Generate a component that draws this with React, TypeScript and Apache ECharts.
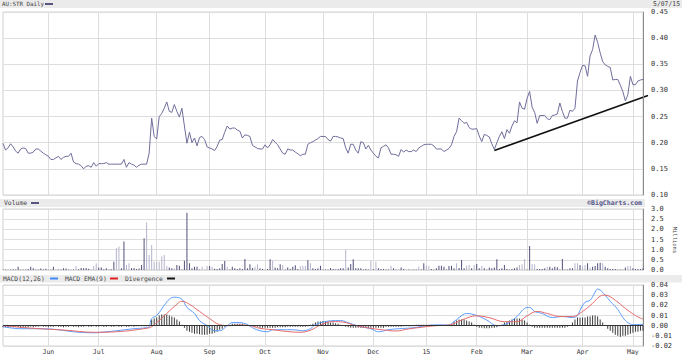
import React, { useEffect, useRef } from "react";
import * as echarts from "echarts";

const firstDay = "2014-05-07";
const lastDay = "2015-05-07";
const holidays = ["2014-06-09", "2014-12-25", "2014-12-26", "2015-01-01", "2015-01-26", "2015-04-03", "2015-04-06"];
const monthNames = ["Jan", "Feb", "Mar", "Apr", "May", "Jun", "Jul", "Aug", "Sep", "Oct", "Nov", "Dec"];

// Daily closes (AUD)
const closes = [
  0.199, 0.186, 0.190, 0.198, 0.192, 0.184, 0.180, 0.188, 0.190, 0.189,
  0.180, 0.180, 0.182, 0.188, 0.188, 0.184, 0.180, 0.177, 0.174, 0.168,
  0.168, 0.171, 0.174, 0.168, 0.172, 0.174, 0.174, 0.180, 0.163, 0.160,
  0.159, 0.156, 0.150, 0.155, 0.156, 0.153, 0.162, 0.155, 0.160, 0.160,
  0.160, 0.162, 0.159, 0.159, 0.159, 0.159, 0.159, 0.159, 0.168, 0.153,
  0.162, 0.159, 0.157, 0.153, 0.157, 0.159, 0.159, 0.159, 0.180, 0.247,
  0.212, 0.207, 0.250, 0.256, 0.266, 0.278, 0.260, 0.258, 0.273, 0.260,
  0.249, 0.266, 0.232, 0.199, 0.220, 0.200, 0.209, 0.194, 0.210, 0.212,
  0.206, 0.192, 0.190, 0.188, 0.185, 0.193, 0.205, 0.206, 0.220, 0.232,
  0.226, 0.228, 0.228, 0.224, 0.222, 0.209, 0.215, 0.214, 0.212, 0.195,
  0.192, 0.189, 0.188, 0.188, 0.196, 0.190, 0.196, 0.206, 0.201, 0.196,
  0.188, 0.180, 0.178, 0.188, 0.186, 0.186, 0.182, 0.179, 0.175, 0.178,
  0.178, 0.197, 0.200, 0.202, 0.205, 0.208, 0.212, 0.212, 0.212, 0.206,
  0.203, 0.212, 0.212, 0.211, 0.209, 0.208, 0.190, 0.180, 0.197, 0.197,
  0.186, 0.180, 0.202, 0.200, 0.188, 0.195, 0.186, 0.180, 0.174, 0.171,
  0.190, 0.193, 0.196, 0.190, 0.178, 0.178, 0.177, 0.174, 0.187, 0.182,
  0.186, 0.183, 0.183, 0.186, 0.183, 0.190, 0.193, 0.196, 0.197, 0.197,
  0.197, 0.194, 0.188, 0.188, 0.188, 0.183, 0.186, 0.189, 0.196, 0.212,
  0.221, 0.247, 0.242, 0.237, 0.239, 0.229, 0.226, 0.226, 0.227, 0.213,
  0.202, 0.216, 0.214, 0.211, 0.198, 0.187, 0.200, 0.212, 0.221, 0.208,
  0.225, 0.218, 0.232, 0.242, 0.238, 0.278, 0.266, 0.264, 0.285, 0.298,
  0.268, 0.258, 0.237, 0.252, 0.252, 0.252, 0.246, 0.244, 0.252, 0.253,
  0.255, 0.276, 0.260, 0.247, 0.247, 0.262, 0.260, 0.266, 0.318, 0.334,
  0.348, 0.347, 0.327, 0.366, 0.378, 0.406, 0.392, 0.372, 0.355, 0.349,
  0.346, 0.344, 0.320, 0.321, 0.321, 0.310, 0.298, 0.280, 0.292, 0.327,
  0.311, 0.311, 0.318, 0.320, 0.321,
];

// Daily volume (millions)
const volumes = [
  0.02, 0.03, 0.01, 0.02, 0.04, 0.03, 0.16, 0.02, 0.03, 0.02,
  0.05, 0.16, 0.08, 0.03, 0.03, 0.07, 0.02, 0.06, 0.01, 0.03,
  0.16, 0.01, 0.02, 0.03, 0.08, 0.07, 0.03, 0.01, 0.02, 0.20,
  0.04, 0.10, 0.08, 0.10, 0.06, 0.01, 0.20, 0.33, 0.12, 0.12,
  0.04, 0.08, 0.02, 0.04, 0.41, 1.07, 1.15, 0.08, 1.40, 0.25,
  0.33, 0.08, 0.10, 0.05, 0.07, 0.25, 1.56, 2.33, 0.74, 1.23,
  0.41, 0.41, 0.41, 0.66, 0.74, 0.20, 0.12, 0.08, 0.08, 0.25,
  0.21, 0.03, 0.46, 2.82, 0.33, 0.08, 0.16, 0.16, 0.03, 0.16,
  0.01, 0.20, 0.20, 0.16, 0.06, 0.05, 0.08, 0.30, 0.44, 0.16,
  0.03, 0.16, 0.08, 0.05, 0.08, 0.05, 0.54, 0.08, 0.28, 0.10,
  0.16, 0.28, 0.08, 0.05, 0.01, 0.05, 0.53, 0.46, 0.12, 0.08,
  0.28, 0.25, 0.03, 0.12, 0.05, 0.16, 0.23, 0.05, 0.20, 0.21,
  0.20, 0.48, 0.33, 0.08, 0.05, 0.08, 0.21, 0.03, 0.02, 0.02,
  0.10, 0.05, 0.03, 0.05, 0.08, 0.08, 0.99, 0.12, 0.30, 0.53,
  0.08, 0.08, 0.08, 0.03, 0.05, 0.03, 0.46, 0.04, 0.41, 0.08,
  0.05, 0.05, 0.03, 0.02, 0.21, 0.08, 0.02, 0.01, 0.12, 0.05,
  0.01, 0.02, 0.01, 0.03, 0.02, 0.16, 0.02, 0.33, 0.21, 0.20,
  0.05, 0.03, 0.08, 0.21, 0.21, 0.16, 0.03, 0.20, 0.21, 0.08,
  0.33, 0.10, 0.49, 0.08, 0.21, 0.25, 0.08, 0.25, 0.30, 0.08,
  0.20, 0.08, 0.03, 0.12, 0.08, 0.12, 0.53, 0.05, 0.08, 0.25,
  0.05, 0.03, 0.05, 0.08, 0.12, 0.25, 0.28, 0.53, 0.03, 1.18,
  0.30, 0.28, 0.05, 0.05, 0.05, 0.08, 0.16, 0.16, 0.08, 0.16,
  0.13, 0.03, 0.54, 0.03, 0.02, 0.08, 0.08, 0.33, 0.33, 0.25,
  0.20, 0.25, 0.33, 0.12, 0.16, 0.20, 0.33, 0.36, 0.33, 0.16,
  0.08, 0.05, 0.05, 0.05, 0.03, 0.02, 0.01, 0.12, 0.20, 0.20,
  0.08, 0.05, 0.05, 0.05, 0.08,
];

// Days whose volume bar is drawn in the light shade
const lightVolumeDays = [29, 36, 37, 45, 46, 49, 50, 57, 58, 59, 60, 61, 62, 63, 64, 65, 68, 79, 81, 83, 89, 100, 101, 107, 111, 118, 119, 120, 122, 136, 146, 148, 154, 165, 168, 169, 180, 184, 185, 187, 190, 205, 206, 207, 210, 211, 216, 227, 228, 230, 231, 233, 238, 248, 249];

// MACD(12,26) line read at day index
const macdLine = [
  [0, -0.001], [7, -0.003], [12, -0.003], [20, -0.0035], [28, -0.006], [36, -0.007], [41, -0.006], [45, -0.005],
  [52, -0.003], [57, -0.002], [58, -0.001], [59, 0.007], [61, 0.010], [64, 0.020], [66, 0.026], [68, 0.028],
  [71, 0.026], [73, 0.018], [76, 0.012], [78, 0.005], [81, 0.0], [84, -0.005], [86, -0.005], [89, 0.0],
  [91, 0.003], [94, 0.003], [97, 0.001], [99, -0.002], [102, -0.005], [105, -0.006], [107, -0.004], [111, -0.004],
  [115, -0.004], [119, -0.005], [122, -0.003], [124, 0.001], [128, 0.004], [132, 0.005], [134, 0.005], [138, 0.002],
  [142, -0.001], [146, -0.003], [149, -0.006], [153, -0.004], [157, -0.003], [163, -0.002], [168, 0.0], [172, 0.0007],
  [177, 0.0007], [179, 0.004], [181, 0.008], [184, 0.012], [188, 0.010], [192, 0.0055], [196, 0.0], [200, 0.002],
  [204, 0.009], [207, 0.017], [209, 0.018], [211, 0.014], [214, 0.012], [218, 0.008], [222, 0.009], [226, 0.008],
  [228, 0.010], [229, 0.015], [231, 0.023], [233, 0.025], [235, 0.033], [236, 0.036], [237, 0.035], [239, 0.030],
  [241, 0.024], [244, 0.016], [246, 0.008], [248, 0.003], [250, 0.001], [254, 0.0013],
];

// MACD EMA(9) signal line read at day index
const signalLine = [
  [0, 0.0], [12, -0.0026], [25, -0.0045], [36, -0.0065], [45, -0.006], [57, -0.0026], [59, -0.001], [61, 0.003],
  [65, 0.012], [69, 0.021], [71, 0.024], [74, 0.021], [78, 0.014], [82, 0.007], [86, 0.001], [90, 0.0],
  [94, 0.0006], [98, 0.0], [102, -0.0026], [107, -0.004], [113, -0.0058], [118, -0.0065], [122, -0.0045], [126, 0.0006],
  [131, 0.004], [135, 0.0035], [140, 0.0], [146, -0.0026], [151, -0.0042], [156, -0.0052], [161, -0.0032], [166, -0.0016],
  [172, 0.0], [177, 0.0006], [182, 0.0055], [188, 0.0097], [193, 0.0078], [199, 0.0039], [204, 0.0039], [208, 0.0097],
  [212, 0.014], [216, 0.012], [221, 0.009], [226, 0.009], [230, 0.014], [234, 0.022], [237, 0.029], [239, 0.030],
  [243, 0.025], [247, 0.017], [251, 0.010], [254, 0.0065],
];

// Divergence histogram (per day)
const divergence = [
  -0.0015, -0.0015, -0.002, -0.0015, -0.0015, -0.001, -0.0015, -0.002, -0.0015, -0.0015,
  -0.0015, -0.001, -0.0015, -0.001, -0.001, -0.0005, -0.001, -0.001, -0.0015, -0.001,
  -0.001, -0.0005, -0.001, -0.001, -0.0015, -0.001, -0.001, -0.0005, -0.001, -0.001,
  -0.0015, -0.001, -0.001, -0.0005, -0.001, -0.001, -0.0005, -0.001, -0.001, -0.0005,
  -0.001, -0.001, -0.0005, -0.001, -0.001, -0.0005, -0.001, -0.001, -0.0005, -0.001,
  -0.001, -0.0005, -0.001, -0.0005, -0.0005, -0.0005, -0.0005, -0.0005, 0, 0.006,
  0.007, 0.008, 0.010, 0.011, 0.011, 0.011, 0.010, 0.009, 0.008, 0.006,
  0.004, 0.001, -0.002, -0.005, -0.006, -0.007, -0.008, -0.008, -0.0085, -0.009,
  -0.009, -0.009, -0.008, -0.008, -0.007, -0.006, -0.004, -0.003, -0.001, 0,
  0.001, 0.002, 0.002, 0.002, 0.002, 0.002, 0.001, 0.001, 0, 0,
  -0.001, -0.001, -0.002, -0.002, -0.002, -0.002, -0.002, -0.002, -0.002, -0.0015,
  -0.0015, -0.0015, -0.0015, -0.001, -0.001, -0.001, -0.001, -0.001, -0.001, -0.001,
  -0.001, -0.0005, 0.001, 0.002, 0.003, 0.004, 0.004, 0.0045, 0.0045, 0.004,
  0.003, 0.003, 0.0025, 0.002, 0.001, 0.0005, -0.001, -0.0015, -0.002, -0.002,
  -0.002, -0.002, -0.002, -0.002, -0.002, -0.002, -0.002, -0.002, -0.002, -0.002,
  -0.002, -0.002, -0.001, -0.001, -0.001, -0.001, -0.001, -0.001, -0.001, -0.0005,
  -0.0005, -0.0005, -0.0005, -0.0005, 0.001, 0.001, 0.001, 0.001, 0.001, 0.001,
  0.001, 0.001, 0.001, 0.001, 0.001, 0.0005, 0, 0, 0.002, 0.004,
  0.005, 0.006, 0.006, 0.006, 0.005, 0.004, 0.003, 0.001, -0.001, -0.002,
  -0.002, -0.0025, -0.0025, -0.0025, -0.002, -0.002, -0.0015, -0.0005, 0.001, 0.003,
  0.004, 0.005, 0.006, 0.007, 0.007, 0.007, 0.006, 0.005, 0.003, 0.001,
  -0.001, -0.002, -0.002, -0.002, -0.002, -0.002, -0.002, -0.002, -0.002, -0.002,
  -0.002, -0.002, -0.002, -0.002, -0.001, 0, 0.003, 0.006, 0.008, 0.008,
  0.008, 0.008, 0.009, 0.009, 0.010, 0.010, 0.009, 0.006, 0.003, 0,
  -0.003, -0.005, -0.007, -0.009, -0.010, -0.011, -0.010, -0.010, -0.009, -0.008,
  -0.007, -0.006, -0.006, -0.005, -0.005,
];

// Support trend line: [day index, price]
const trendLine = [
  [195, 0.185],
  [254, 0.287],
];

const priceTicks = { min: 0.1, max: 0.45, interval: 0.05 };
const volumeTicks = { min: 0, max: 3, interval: 0.5 };
const macdTicks = { min: -0.02, max: 0.04, interval: 0.01 };

function tradingDays(): string[] {
  const out: string[] = [];
  const d = new Date(firstDay + "T00:00:00Z");
  const end = new Date(lastDay + "T00:00:00Z");
  while (d.getTime() <= end.getTime()) {
    const wd = d.getUTCDay();
    const s = d.toISOString().slice(0, 10);
    if (wd !== 0 && wd !== 6 && holidays.indexOf(s) < 0) out.push(s);
    d.setUTCDate(d.getUTCDate() + 1);
  }
  return out;
}

export default function App() {
  const ref = useRef<HTMLDivElement>(null);
  useEffect(() => {
    if (!ref.current) return;
    const chart = echarts.init(ref.current, null, { renderer: "svg" });
    const dates = tradingDays();
    const isMonthStart = dates.map((d, i) => i > 0 && d.slice(5, 7) !== dates[i - 1].slice(5, 7));
    const font = "DejaVu Sans Mono";
    const gridColor = "#dedede";
    const lightSet = new Set(lightVolumeDays);

    const xAxis = (gi: number, labels: boolean) => ({
      type: "category",
      gridIndex: gi,
      data: dates,
      boundaryGap: false,
      axisLine: { show: false },
      axisTick: { show: false },
      axisLabel: {
        show: labels,
        interval: (i: number) => isMonthStart[i],
        formatter: (v: string) => {
          const m = parseInt(v.slice(5, 7), 10) - 1;
          return m === 0 ? v.slice(2, 4) : monthNames[m];
        },
        fontSize: 6.5,
        fontFamily: font,
        color: "#333",
        margin: 2,
      },
      splitLine: { show: true, interval: (i: number) => isMonthStart[i], lineStyle: { color: gridColor, width: 1 } },
    });
    const yAxis = (gi: number, t: { min: number; max: number; interval: number }, digits: number) => ({
      type: "value",
      gridIndex: gi,
      position: "right",
      min: t.min,
      max: t.max,
      interval: t.interval,
      axisLine: { show: true, lineStyle: { color: "#8a8a8a", width: 1 } },
      axisTick: { show: false },
      axisLabel: {
        formatter: (v: number) => v.toFixed(digits),
        fontSize: 7,
        fontFamily: font,
        color: "#333",
        margin: 8,
      },
      splitLine: { show: true, lineStyle: { color: gridColor, width: 1 } },
    });
    const gridBase = { left: 3, right: 39, show: true, borderColor: "#d0d0d0", borderWidth: 1, backgroundColor: "#fff" };

    chart.setOption({
      animation: false,
      backgroundColor: "#fff",
      grid: [
        { ...gridBase, top: 12, height: 183 },
        { ...gridBase, top: 209, height: 61 },
        { ...gridBase, top: 285, height: 61 },
      ],
      xAxis: [xAxis(0, false), xAxis(1, false), xAxis(2, true)],
      yAxis: [yAxis(0, priceTicks, 2), yAxis(1, volumeTicks, 1), yAxis(2, macdTicks, 2)],
      series: [
        {
          type: "line",
          xAxisIndex: 0,
          yAxisIndex: 0,
          data: closes,
          showSymbol: false,
          lineStyle: { color: "#6e6e9c", width: 1 },
          silent: true,
        },
        {
          type: "bar",
          xAxisIndex: 1,
          yAxisIndex: 1,
          barWidth: 1,
          data: volumes.map((v, i) => ({ value: v, itemStyle: { color: lightSet.has(i) ? "#b4b4cc" : "#50507c" } })),
          silent: true,
        },
        {
          type: "bar",
          xAxisIndex: 2,
          yAxisIndex: 2,
          barWidth: 1,
          data: divergence,
          itemStyle: { color: "#3a3a3a" },
          silent: true,
          markLine: {
            silent: true,
            symbol: "none",
            label: { show: false },
            lineStyle: { color: "#333", width: 1, type: "solid" },
            data: [{ yAxis: 0 }],
          },
        },
        {
          type: "line",
          xAxisIndex: 2,
          yAxisIndex: 2,
          data: macdLine.map(([i, v]) => [dates[i], v]),
          smooth: 0.4,
          showSymbol: false,
          lineStyle: { color: "#5a9cff", width: 1 },
          silent: true,
        },
        {
          type: "line",
          xAxisIndex: 2,
          yAxisIndex: 2,
          data: signalLine.map(([i, v]) => [dates[i], v]),
          smooth: 0.4,
          showSymbol: false,
          lineStyle: { color: "#e46a6a", width: 1 },
          silent: true,
        },
      ],
    });

    const a = chart.convertToPixel({ gridIndex: 0 }, [dates[trendLine[0][0]], trendLine[0][1]]) as number[];
    const b = chart.convertToPixel({ gridIndex: 0 }, [dates[trendLine[1][0]], trendLine[1][1]]) as number[];
    const endX = b[0] + 5;
    const endY = a[1] + ((endX - a[0]) / (b[0] - a[0])) * (b[1] - a[1]);

    const txt = (text: string, x: number, y: number, extra: any = {}) => ({
      type: "text",
      x,
      y,
      silent: true,
      style: { text, fontSize: 6, fontFamily: font, fill: "#444", verticalAlign: "middle", ...extra },
    });
    const dash = (x1: number, x2: number, y: number, color: string) => ({
      type: "line",
      silent: true,
      shape: { x1, y1: y, x2, y2: y },
      style: { stroke: color, lineWidth: 2 },
    });

    chart.setOption({
      graphic: [
        { type: "rect", silent: true, shape: { x: 0, y: 0, width: 682, height: 8 }, style: { fill: "#ebebeb" } },
        { type: "rect", silent: true, shape: { x: 0, y: 199, width: 645, height: 8 }, style: { fill: "#ebebeb" } },
        { type: "rect", silent: true, shape: { x: 0, y: 275, width: 682, height: 7.5 }, style: { fill: "#ebebeb" } },
        txt("AU:STR Daily", 2, 4, { fontSize: 5.8 }),
        dash(45, 53, 4, "#55557f"),
        txt("5/07/15", 680, 4, { align: "right", fontSize: 6.4 }),
        txt("Volume", 4, 203, { fontSize: 6.4 }),
        dash(31, 39, 203, "#55557f"),
        txt("©BigCharts.com", 642, 203, { align: "right", fill: "#55558a", fontWeight: "bold", fontSize: 6.5 }),
        txt("MACD(12,26)", 3, 278.5, { fontSize: 6.3 }),
        dash(50, 58, 278.5, "#3d8bff"),
        txt("MACD EMA(9)", 65, 278.5, { fontSize: 6.3 }),
        dash(110, 118, 278.5, "#e02020"),
        txt("Divergence", 125, 278.5, { fontSize: 6.3 }),
        dash(167, 175, 278.5, "#111"),
        {
          type: "text",
          x: 675,
          y: 240,
          rotation: -Math.PI / 2,
          silent: true,
          style: { text: "Millions", fontSize: 5.5, fontFamily: font, fill: "#444", align: "center", verticalAlign: "middle" },
        },
        {
          type: "line",
          silent: true,
          shape: { x1: a[0], y1: a[1], x2: endX, y2: endY },
          style: { stroke: "#111", lineWidth: 1.6 },
        },
      ],
    });

    return () => chart.dispose();
  }, []);
  return <div ref={ref} style={{ position: "absolute", left: 0, top: 0, width: 682, height: 355 }} />;
}
